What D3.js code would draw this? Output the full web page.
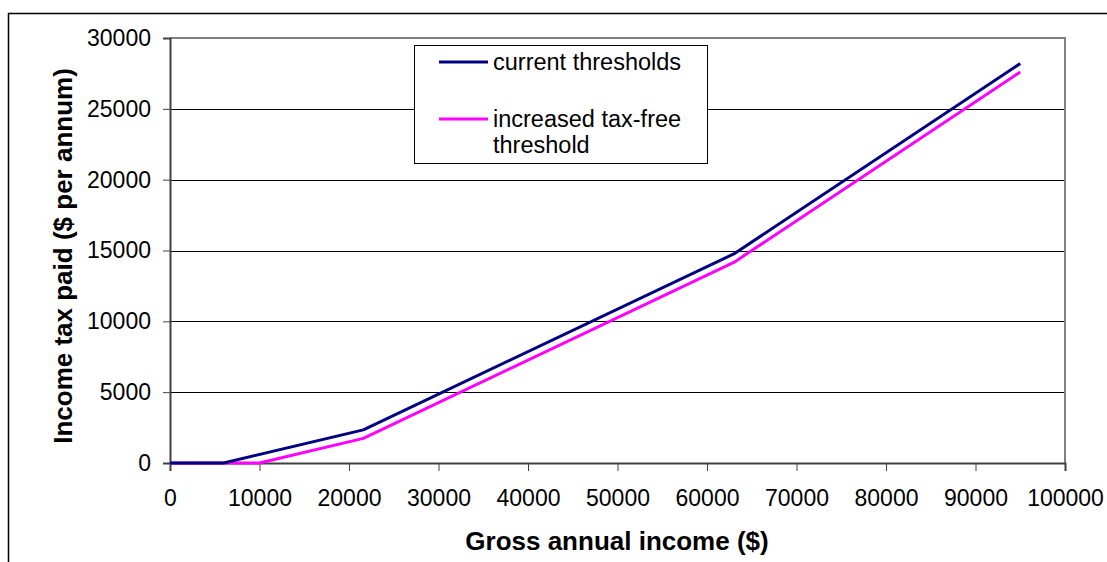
<!DOCTYPE html>
<html>
<head>
<meta charset="utf-8">
<script src="https://cdn.jsdelivr.net/npm/d3@7"></script>
<style>
  html, body { margin: 0; padding: 0; background: #fff; }
  svg { display: block; font-family: "Liberation Sans", Arial, sans-serif; }
</style>
</head>
<body>
<svg id="chart" width="1107" height="562"></svg>
<script>
// Gross income breakpoints ($) and tax paid ($ per annum) for each scenario
const currentIncome = [0, 6000, 21600, 63000, 95000];
const currentTax = [0, 0, 2340, 14760, 28200];
const increasedIncome = [0, 10000, 21600, 63000, 95000];
const increasedTax = [0, 0, 1740, 14160, 27600];
const seriesNames = ["current thresholds", "increased tax-free threshold"];
const xTicks = [0, 10000, 20000, 30000, 40000, 50000, 60000, 70000, 80000, 90000, 100000];
const yTicks = [0, 5000, 10000, 15000, 20000, 25000, 30000];

const svg = d3.select("#chart");
const plotLeft = 170, plotRight = 1065, plotTop = 38, plotBottom = 463;
const FONT = "Liberation Sans, Arial, sans-serif";

const x = d3.scaleLinear().domain([0, 100000]).range([plotLeft, plotRight]);
const y = d3.scaleLinear().domain([0, 30000]).range([plotBottom, plotTop]);

// outer chart frame (extends past the right and bottom edges)
svg.append("path")
  .attr("d", "M8.5,600 L8.5,13.5 L1200,13.5")
  .attr("fill", "none").attr("stroke", "#000").attr("stroke-width", 1.5);

// horizontal gridlines
svg.append("g").selectAll("line")
  .data(yTicks.filter(v => v > 0 && v < 30000))
  .join("line")
  .attr("x1", plotLeft).attr("x2", plotRight)
  .attr("y1", d => Math.round(y(d)) + 0.5).attr("y2", d => Math.round(y(d)) + 0.5)
  .attr("stroke", "#000").attr("stroke-width", 1);

// plot-area border on top and right
svg.append("path")
  .attr("d", `M${plotLeft},${plotTop} L${plotRight},${plotTop} L${plotRight},${plotBottom}`)
  .attr("fill", "none").attr("stroke", "#808080").attr("stroke-width", 2);

// axes
const yAxis = d3.axisLeft(y).tickValues(yTicks).tickSize(7).tickPadding(12).tickFormat(d3.format("d"));
const gy = svg.append("g").attr("transform", `translate(${plotLeft},0)`).call(yAxis);
gy.select(".domain").attr("stroke", "#404040").attr("stroke-width", 2);
gy.selectAll(".tick line").attr("stroke", "#404040").attr("stroke-width", 1);
gy.selectAll("text").attr("font-size", 23).attr("fill", "#000").attr("font-family", FONT);

const xAxis = d3.axisBottom(x).tickValues(xTicks).tickSize(8).tickPadding(19).tickFormat(d3.format("d"));
const gx = svg.append("g").attr("transform", `translate(0,${plotBottom})`).call(xAxis);
gx.select(".domain").attr("stroke", "#404040").attr("stroke-width", 2);
gx.selectAll(".tick line").attr("stroke", "#404040").attr("stroke-width", 1);
gx.selectAll("text").attr("font-size", 23).attr("fill", "#000").attr("font-family", FONT);

// series lines
const line = d3.line().x(d => x(d[0])).y(d => y(d[1]));
const series = [
  { name: seriesNames[0], color: "#000080", pts: d3.zip(currentIncome, currentTax) },
  { name: seriesNames[1], color: "#FF00FF", pts: d3.zip(increasedIncome, increasedTax) }
];
svg.append("g").selectAll("path")
  .data(series.slice().reverse())
  .join("path")
  .attr("d", d => line(d.pts))
  .attr("fill", "none")
  .attr("stroke", d => d.color)
  .attr("stroke-width", 3)
  .attr("stroke-linejoin", "round");

// axis titles
svg.append("text")
  .attr("x", 617).attr("y", 550)
  .attr("text-anchor", "middle")
  .attr("font-size", 26).attr("font-weight", "bold")
  .text("Gross annual income ($)");
svg.append("text")
  .attr("transform", "translate(72,256) rotate(-90)")
  .attr("text-anchor", "middle")
  .attr("font-size", 26).attr("font-weight", "bold")
  .text("Income tax paid ($ per annum)");

// legend
const lg = svg.append("g");
lg.append("rect")
  .attr("x", 414.5).attr("y", 45.5).attr("width", 293).attr("height", 118)
  .attr("fill", "#fff").attr("stroke", "#000").attr("stroke-width", 1);
const legendRows = [
  { color: series[0].color, lines: ["current thresholds"], y: 62 },
  { color: series[1].color, lines: ["increased tax-free", "threshold"], y: 119 }
];
legendRows.forEach(r => {
  lg.append("line")
    .attr("x1", 439).attr("x2", 488).attr("y1", r.y).attr("y2", r.y)
    .attr("stroke", r.color).attr("stroke-width", 3);
  const t = lg.append("text").attr("x", 493).attr("y", r.y + 8).attr("font-size", 23.5);
  r.lines.forEach((s, i) => t.append("tspan").attr("x", 493).attr("dy", i === 0 ? 0 : 26).text(s));
});
</script>
</body>
</html>
